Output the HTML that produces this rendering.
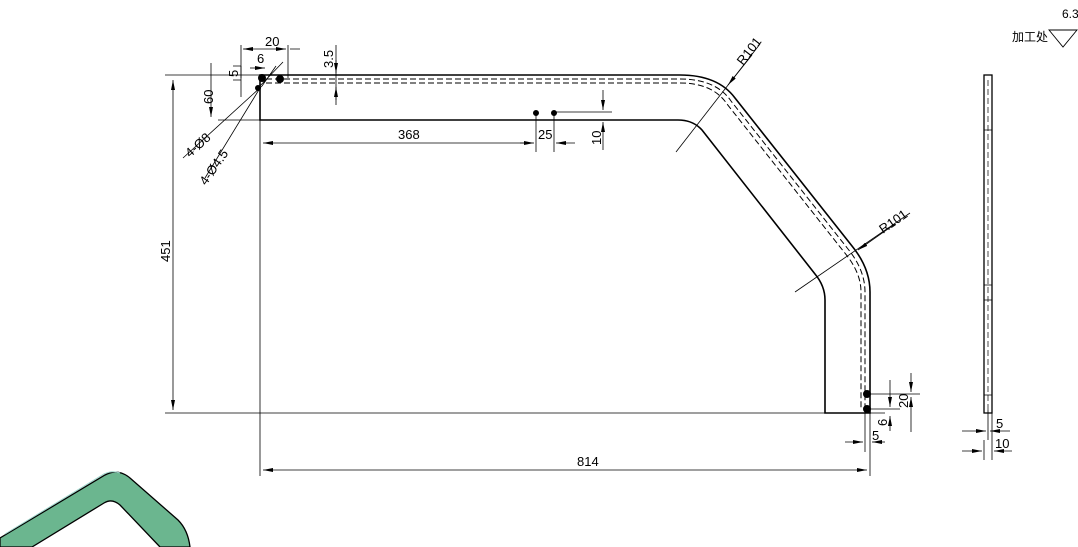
<!DOCTYPE html>
<html><head><meta charset="utf-8"><style>
html,body{margin:0;padding:0;background:#fff;width:1078px;height:547px;overflow:hidden}
svg text{font-family:"Liberation Sans Narrow","Liberation Sans","Noto Sans CJK SC",sans-serif;fill:#000;stroke:none;font-weight:normal}
</style></head><body>
<svg width="1078" height="547" viewBox="0 0 1078 547" xmlns="http://www.w3.org/2000/svg">
<defs>
<marker id="a" viewBox="0 0 10 4" refX="10" refY="2" markerWidth="10" markerHeight="4" orient="auto-start-reverse" markerUnits="userSpaceOnUse"><path d="M0,0L10,2L0,4z" fill="#000"/></marker>
</defs>
<g fill="none" stroke="#000">
<path d="M260,75 L680,75 Q718,75 735,98 L852,246 Q870,268 870,292 L870,413 L825,413 L825,300 Q825,286 815,274 L702,130 Q693,120 678,120 L260,120 Z" stroke-width="1.6"/>
<path d="M266,79 L680,79 Q716,79 731,101 L848,249 Q865,270 865,292 L865,410" stroke-width="1" stroke-dasharray="6,3"/>
<path d="M266,83 L680,83 Q713,83 727,104 L844,252 Q861,272 861,292 L861,410" stroke-width="1" stroke-dasharray="6,3"/>
<g stroke-width="0.8">
<path d="M165,75 L260,75 M165,413 L825,413 M260,80 L260,476 M870,413 L870,476 M218,120 L260,120"/>
<path d="M173,80 L173,410" marker-start="url(#a)" marker-end="url(#a)"/>
<path d="M263,143 L528,143" marker-start="url(#a)"/>
<path d="M263,470 L867,470" marker-start="url(#a)" marker-end="url(#a)"/>
<path d="M211,63 L211,117" marker-end="url(#a)"/>
<path d="M241,66 L241,97"/>
<path d="M233,66 L241,66 M233,80 L241,80"/>
<path d="M241,45 L241,78 M288,45 L288,78"/>
<path d="M243,49 L286,49" marker-start="url(#a)" marker-end="url(#a)"/>
<path d="M250,49 L244,49 M300,49 L290,49"/>
<path d="M250,68 L265,68" marker-end="url(#a)"/>
<path d="M336,45 L336,105"/>
<path d="M336,60 L336,73" marker-end="url(#a)"/>
<path d="M336,100 L336,87" marker-end="url(#a)"/>
<path d="M183,158 L262,86 M205,178 L260,88 M262,86 L276,66 M258,88 L283,62"/>
<path d="M536,112 L536,152 M554,112 L554,152 M554,112 L612,112"/>
<path d="M520,143 L534,143" marker-end="url(#a)"/>
<path d="M575,143 L556,143" marker-end="url(#a)"/>
<path d="M603,90 L603,110" marker-end="url(#a)"/>
<path d="M603,150 L603,122" marker-end="url(#a)"/>
<path d="M676,152 L760,44"/><path d="M752,55 L728,85" marker-end="url(#a)"/>
<path d="M795,292 L910,213"/><path d="M895,224 L858,250" marker-end="url(#a)"/>
<path d="M866,394 L920,394 M866,409 L900,409 M856,413 L885,413"/>
<path d="M890,380 L890,407" marker-end="url(#a)"/>
<path d="M890,431 L890,416" marker-end="url(#a)"/>
<path d="M911,373 L911,392" marker-end="url(#a)"/>
<path d="M911,432 L911,397" marker-end="url(#a)"/>
<path d="M865,405 L865,452"/>
<path d="M845,442 L863,442" marker-end="url(#a)"/>
<path d="M885,442 L872,442" marker-end="url(#a)"/>
<path d="M984,440 L984,460 M992,410 L992,460 M988,410 L988,440"/>
<path d="M962,431 L986,431" marker-end="url(#a)"/>
<path d="M1010,431 L990,431" marker-end="url(#a)"/>
<path d="M962,451 L982,451" marker-end="url(#a)"/>
<path d="M1012,451 L994,451" marker-end="url(#a)"/>
<rect x="984" y="75" width="8" height="338" stroke-width="1.3"/>
<path d="M988,80 L988,410" stroke-width="0.7" stroke-dasharray="6,3"/>
<path d="M984,130 L992,130 M984,285 L992,285 M984,300 L992,300 M984,395 L992,395" stroke-width="0.8"/>
<path d="M1049,30 L1077,30 L1063,47 Z" stroke-width="0.9"/>
</g>
<g fill="#000">
<circle cx="262" cy="78" r="3.5"/><circle cx="280" cy="79" r="3.5"/><circle cx="258" cy="88" r="2.5"/>
<circle cx="536" cy="113" r="2.5"/><circle cx="554" cy="113" r="2.5"/>
<circle cx="867" cy="394" r="3.5"/><circle cx="867" cy="409" r="3.5"/>
</g>
<g font-size="13">
<text x="398" y="139">368</text>
<text x="538" y="139">25</text>
<text x="577" y="466">814</text>
<text x="265" y="46">20</text>
<text x="257" y="63">6</text>
<text x="872" y="440">5</text>
<text x="996" y="428">5</text>
<text x="995" y="448">10</text>
<text x="1062" y="18" font-size="12">6.3</text>
<text x="1012" y="41" font-size="12">加工处</text>
<text transform="translate(170,262) rotate(-90)">451</text>
<text transform="translate(213,104) rotate(-90)">60</text>
<text transform="translate(238,77) rotate(-90)">5</text>
<text transform="translate(333,68) rotate(-90)">3.5</text>
<text transform="translate(601,145) rotate(-90)">10</text>
<text transform="translate(908,408) rotate(-90)">20</text>
<text transform="translate(887,426) rotate(-90)">6</text>
<text transform="translate(743,66) rotate(-52)">R101</text>
<text transform="translate(883,234) rotate(-35)">R101</text>
<text transform="translate(190,158) rotate(-42)">4-Ø8</text>
<text transform="translate(206,186) rotate(-55)">4-Ø4.5</text>
</g>
<path d="M0,547 L0,538 L105,475 Q118,468 130,478 L178,520 Q188,530 190,547 L160,547 L120,505 Q112,498 104,503 L32,547 Z" fill="#6bb68f" stroke="#000" stroke-width="1.3"/>
<path d="M5,534 L104,474 Q112,470 120,473" fill="none" stroke="#9fd6cc" stroke-width="1"/>
</svg>
</body></html>
